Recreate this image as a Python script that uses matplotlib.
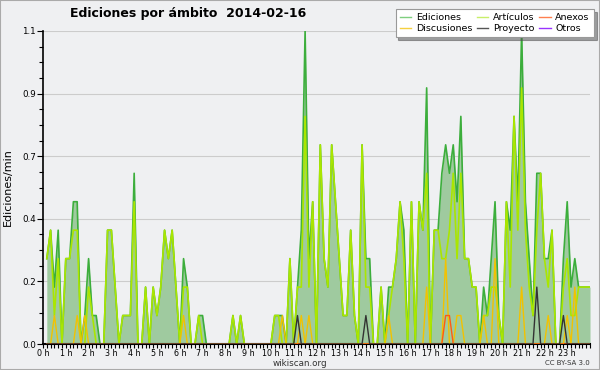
import matplotlib

matplotlib.use('Agg')
import numpy as np
import matplotlib.pyplot as plt
import matplotlib.ticker as ticker
from matplotlib.lines import Line2D
from matplotlib.patches import Rectangle

# edits per minute, one value per 10-minute slot (00:10 ... 24:00), two hours per row
ediciones = [
    0.3, 0.4, 0.2, 0.4, 0.0, 0.3,  0.3, 0.5, 0.5, 0.0, 0.1, 0.3,
    0.1, 0.1, 0.0, 0.0, 0.4, 0.4,  0.2, 0.0, 0.1, 0.1, 0.1, 0.6,
    0.0, 0.0, 0.2, 0.0, 0.2, 0.1,  0.2, 0.4, 0.3, 0.4, 0.2, 0.0,
    0.3, 0.2, 0.0, 0.0, 0.1, 0.1,  0.0, 0.0, 0.0, 0.0, 0.0, 0.0,
    0.0, 0.1, 0.0, 0.1, 0.0, 0.0,  0.0, 0.0, 0.0, 0.0, 0.0, 0.0,
    0.1, 0.1, 0.1, 0.0, 0.3, 0.0,  0.2, 0.4, 1.1, 0.3, 0.5, 0.0,
    0.7, 0.3, 0.2, 0.7, 0.5, 0.3,  0.1, 0.1, 0.4, 0.1, 0.0, 0.7,
    0.3, 0.3, 0.0, 0.0, 0.2, 0.0,  0.2, 0.2, 0.3, 0.5, 0.4, 0.0,
    0.5, 0.0, 0.5, 0.4, 0.9, 0.0,  0.4, 0.4, 0.6, 0.7, 0.6, 0.7,
    0.5, 0.8, 0.3, 0.3, 0.2, 0.2,  0.0, 0.2, 0.1, 0.3, 0.5, 0.1,
    0.0, 0.5, 0.4, 0.8, 0.5, 1.1,  0.5, 0.3, 0.1, 0.6, 0.6, 0.3,
    0.3, 0.4, 0.0, 0.0, 0.3, 0.5,  0.2, 0.3, 0.2, 0.2, 0.2, 0.2,
]
articulos = [
    0.3, 0.4, 0.1, 0.3, 0.0, 0.3,  0.3, 0.4, 0.4, 0.0, 0.0, 0.2,
    0.1, 0.0, 0.0, 0.0, 0.4, 0.4,  0.2, 0.0, 0.1, 0.1, 0.1, 0.5,
    0.0, 0.0, 0.2, 0.0, 0.2, 0.1,  0.2, 0.4, 0.3, 0.4, 0.2, 0.0,
    0.2, 0.2, 0.0, 0.0, 0.1, 0.0,  0.0, 0.0, 0.0, 0.0, 0.0, 0.0,
    0.0, 0.1, 0.0, 0.1, 0.0, 0.0,  0.0, 0.0, 0.0, 0.0, 0.0, 0.0,
    0.1, 0.1, 0.0, 0.0, 0.3, 0.0,  0.2, 0.2, 0.8, 0.2, 0.5, 0.0,
    0.7, 0.3, 0.2, 0.7, 0.5, 0.3,  0.1, 0.1, 0.4, 0.1, 0.0, 0.7,
    0.2, 0.2, 0.0, 0.0, 0.2, 0.0,  0.1, 0.2, 0.3, 0.5, 0.3, 0.0,
    0.5, 0.0, 0.5, 0.4, 0.6, 0.0,  0.4, 0.4, 0.3, 0.3, 0.4, 0.6,
    0.3, 0.6, 0.3, 0.3, 0.2, 0.2,  0.0, 0.1, 0.1, 0.2, 0.2, 0.1,
    0.0, 0.5, 0.2, 0.8, 0.4, 0.9,  0.4, 0.2, 0.1, 0.4, 0.6, 0.3,
    0.2, 0.4, 0.0, 0.0, 0.2, 0.3,  0.1, 0.1, 0.2, 0.2, 0.2, 0.2,
]
discusiones = [
    0.0, 0.0, 0.1, 0.0, 0.0, 0.0,  0.0, 0.0, 0.1, 0.0, 0.1, 0.0,
    0.0, 0.0, 0.0, 0.0, 0.0, 0.0,  0.0, 0.0, 0.0, 0.0, 0.0, 0.0,
    0.0, 0.0, 0.0, 0.0, 0.0, 0.0,  0.0, 0.0, 0.0, 0.0, 0.0, 0.0,
    0.1, 0.0, 0.0, 0.0, 0.0, 0.0,  0.0, 0.0, 0.0, 0.0, 0.0, 0.0,
    0.0, 0.0, 0.0, 0.0, 0.0, 0.0,  0.0, 0.0, 0.0, 0.0, 0.0, 0.0,
    0.0, 0.0, 0.1, 0.0, 0.0, 0.0,  0.0, 0.1, 0.0, 0.1, 0.0, 0.0,
    0.0, 0.0, 0.0, 0.0, 0.0, 0.0,  0.0, 0.0, 0.0, 0.0, 0.0, 0.0,
    0.0, 0.0, 0.0, 0.0, 0.0, 0.0,  0.1, 0.0, 0.0, 0.0, 0.0, 0.0,
    0.0, 0.0, 0.0, 0.0, 0.2, 0.0,  0.0, 0.0, 0.0, 0.3, 0.0, 0.0,
    0.1, 0.1, 0.0, 0.0, 0.0, 0.0,  0.0, 0.1, 0.0, 0.0, 0.3, 0.0,
    0.0, 0.0, 0.0, 0.0, 0.0, 0.2,  0.0, 0.0, 0.0, 0.0, 0.0, 0.0,
    0.1, 0.0, 0.0, 0.0, 0.0, 0.1,  0.0, 0.2, 0.0, 0.0, 0.0, 0.0,
]
proyecto = [0.0] * 144
proyecto[66] = 0.1
proyecto[84] = 0.1
proyecto[129] = 0.2
proyecto[136] = 0.1
anexos = [0.0] * 144
anexos[105] = 0.1
anexos[106] = 0.1
otros = [0.0] * 144

hour_labels = ['%d h' % h for h in range(24)]

bg = '#eff0f2'
fig = plt.figure(figsize=(6, 3.7), dpi=100, facecolor=bg)
ax = fig.add_axes([43 / 600, 26 / 370, 547 / 600, 313 / 370])
ax.set_facecolor(bg)

x = np.arange(1, len(ediciones) + 1) / 6.0

ax.fill_between(x, 0, ediciones, color='#9fca9f', lw=0, zorder=1)
ax.plot(x, otros, color='#9933ff', lw=1.0, zorder=1)
ax.plot(x, ediciones, color='#3cae3c', lw=1.2, zorder=3)
ax.plot(x, articulos, color='#aae600', lw=1.2, zorder=4)
ax.plot(x, discusiones, color='#f2c200', lw=1.0, zorder=5)
ax.plot(x, anexos, color='#ff5a14', lw=1.0, zorder=5)
ax.plot(x, proyecto, color='#333333', lw=1.0, zorder=6)

ax.set_xlim(0, 24)
ax.set_ylim(0, 1.1)

ax.spines['top'].set_visible(False)
ax.spines['right'].set_visible(False)
ax.spines['left'].set_linewidth(1.2)
ax.spines['bottom'].set_linewidth(1.5)

ax.xaxis.set_major_locator(ticker.FixedLocator(range(24)))
ax.xaxis.set_major_formatter(ticker.FixedFormatter(hour_labels))
ax.xaxis.set_minor_locator(ticker.MultipleLocator(1 / 6))
ax.yaxis.set_major_locator(ticker.MultipleLocator(0.22))
ax.yaxis.set_major_formatter(ticker.FormatStrFormatter('%.1f'))
ax.yaxis.set_minor_locator(ticker.MultipleLocator(0.055))
ax.tick_params(axis='x', which='both', direction='out', length=3, width=0.8,
               labelsize=5.8, pad=0.5)
ax.tick_params(axis='y', which='major', direction='out', length=4, width=0.8,
               labelsize=6.3, pad=1)
ax.tick_params(axis='y', which='minor', direction='out', length=3, width=0.8)

ax.yaxis.grid(True, which='major', color='#cccccc', lw=0.8)
ax.set_axisbelow(True)

ax.set_ylabel('Ediciones/min', fontsize=8, labelpad=7)

fig.text(188 / 600, 1 - 14 / 370, 'Ediciones por ámbito  2014-02-16',
         ha='center', va='center', fontsize=9, fontweight='bold')
fig.text(300 / 600, 1 - 364 / 370, 'wikiscan.org', ha='center', va='center',
         fontsize=6.3, color='#333333')
fig.text(590 / 600, 1 - 363 / 370, 'CC BY-SA 3.0', ha='right', va='center',
         fontsize=5, color='#333333')

handles = [
    Line2D([], [], color='#7fcf7f', lw=1),
    Line2D([], [], color='#f5d040', lw=1),
    Line2D([], [], color='#c8ef6a', lw=1),
    Line2D([], [], color='#555555', lw=1),
    Line2D([], [], color='#ff8050', lw=1),
    Line2D([], [], color='#9933ff', lw=1),
]
names = ['Ediciones', 'Discusiones', 'Artículos', 'Proyecto', 'Anexos', 'Otros']
leg = fig.legend(handles, names, ncol=3, loc='upper right',
                 bbox_to_anchor=(594 / 600, 1 - 9 / 370), fontsize=6.8,
                 frameon=True, fancybox=False, shadow=True, framealpha=1,
                 edgecolor='#999999', handlelength=1.2, handletextpad=0.5,
                 columnspacing=0.5, labelspacing=0.2, borderpad=0.45,
                 borderaxespad=0)
leg.get_frame().set_linewidth(0.8)

fig.patches.append(Rectangle((0, 0), 1, 1, transform=fig.transFigure,
                             fill=False, edgecolor='#aaaaaa', lw=1.5))

fig.savefig('out.png', dpi=100, facecolor=bg)
